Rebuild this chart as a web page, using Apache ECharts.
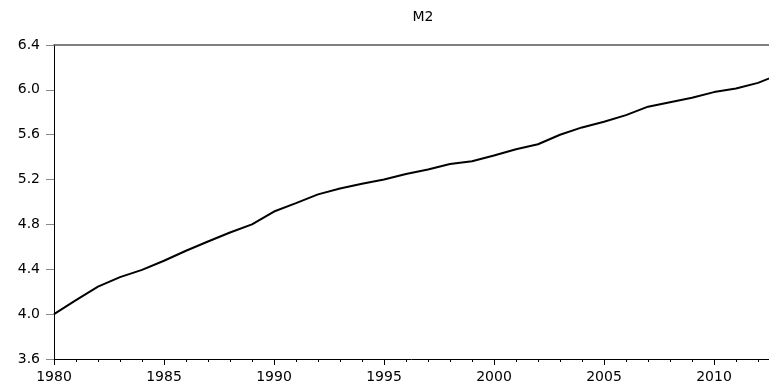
<!DOCTYPE html>
<html>
<head>
<meta charset="utf-8">
<script src="https://cdn.jsdelivr.net/npm/echarts@6/dist/echarts.min.js"></script>
<style>html,body{margin:0;padding:0;background:#fff;}#c{width:769px;height:388px;}</style>
</head>
<body>
<div id="c"></div>
<script>
var years = [1980,1981,1982,1983,1984,1985,1986,1987,1988,1989,1990,1991,1992,1993,1994,1995,1996,1997,1998,1999,2000,2001,2002,2003,2004,2005,2006,2007,2008,2009,2010,2011,2012,2013];
var m2 = [4.00,4.125,4.245,4.33,4.395,4.476,4.565,4.648,4.728,4.80,4.915,4.99,5.068,5.12,5.163,5.20,5.25,5.29,5.338,5.363,5.415,5.47,5.515,5.60,5.665,5.715,5.775,5.85,5.89,5.93,5.98,6.012,6.062,6.14];
var yTicks = [3.6,4.0,4.4,4.8,5.2,5.6,6.0,6.4];
var xMin = 1980, xMax = 2012.5;

var font = 'DejaVu Sans, Verdana, sans-serif';
var chart = echarts.init(document.getElementById('c'), null, {renderer:'canvas'});
chart.setOption({
  animation:false,
  backgroundColor:'#ffffff',
  title:{text:'M2', left:418, top:5, textAlign:'center',
    textStyle:{fontFamily:font, fontSize:14, fontWeight:'normal', color:'#000'}},
  grid:{left:54, right:0, top:45, bottom:29, containLabel:false},
  xAxis:[
    {type:'value', min:xMin, max:xMax, interval:5, position:'bottom',
      axisLine:{show:true, lineStyle:{color:'#000', width:1}},
      axisTick:{show:true, length:6, lineStyle:{color:'#000'}},
      axisLabel:{show:true, margin:11, fontFamily:font, fontSize:14, color:'#000', showMaxLabel:false,
        formatter:function(v){return String(v);}},
      splitLine:{show:false}},
    {type:'value', min:xMin, max:xMax, interval:1, position:'bottom', offset:0,
      axisLine:{show:false},
      axisTick:{show:true, length:3, lineStyle:{color:'#000'}},
      axisLabel:{show:false}, splitLine:{show:false}},
    {type:'value', min:xMin, max:xMax, position:'top', offset:0,
      axisLine:{show:true, lineStyle:{color:'#555', width:1.5}},
      axisTick:{show:false}, axisLabel:{show:false}, splitLine:{show:false}}
  ],
  yAxis:{type:'value', min:3.6, max:6.4, interval:0.4,
    axisLine:{show:true, lineStyle:{color:'#000', width:1}},
    axisTick:{show:true, length:8, lineStyle:{color:'#888'}},
    axisLabel:{margin:14, fontFamily:font, fontSize:14, color:'#000',
      formatter:function(v){return v.toFixed(1);}},
    splitLine:{show:false}},
  series:[{type:'line', xAxisIndex:0, data:years.map(function(y,i){return [y,m2[i]];}),
    showSymbol:false, clip:true, lineStyle:{color:'#000', width:2}}]
});
</script>
</body>
</html>
